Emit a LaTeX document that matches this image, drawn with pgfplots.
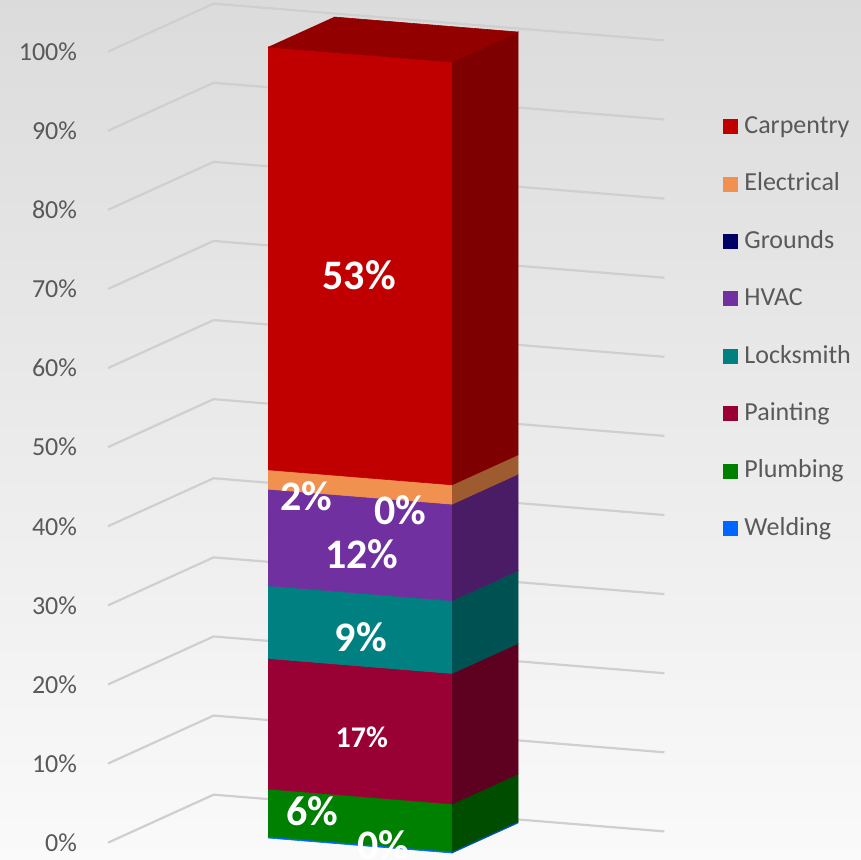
\documentclass[border=0pt]{standalone}
\usepackage{fontspec}
\setmainfont{Carlito}
\usepackage{pgfplots}
\pgfplotsset{compat=1.18}

\definecolor{tickgray}{HTML}{595959}
\definecolor{gridc}{HTML}{CFCFCF}
\definecolor{carp}{HTML}{C00000}\definecolor{carpS}{HTML}{7F0000}\definecolor{carpT}{HTML}{930000}
\definecolor{elec}{HTML}{F0914F}\definecolor{elecS}{HTML}{9E5B30}
\definecolor{grnd}{HTML}{000066}\definecolor{grndS}{HTML}{000040}
\definecolor{hvac}{HTML}{7030A0}\definecolor{hvacS}{HTML}{4A1C66}
\definecolor{lock}{HTML}{008080}\definecolor{lockS}{HTML}{005252}
\definecolor{paint}{HTML}{990033}\definecolor{paintS}{HTML}{5E0020}
\definecolor{plumb}{HTML}{008000}\definecolor{plumbS}{HTML}{004D00}
\definecolor{weld}{HTML}{0066FF}\definecolor{weldS}{HTML}{0050C8}

\tikzset{lbl/.style={text=white, font=\bfseries\fontsize{21}{24}\selectfont}}

% one stacked block: lower, upper, front colour, side colour
\newcommand{\seg}[4]{%
  \addplot3[fill=#3, draw=#3, line width=0.3pt, forget plot]
    coordinates {(0,0,#1) (1,0,#1) (1,0,#2) (0,0,#2)};
  \addplot3[fill=#4, draw=#4, line width=0.3pt, forget plot]
    coordinates {(1,0,#1) (1,1,#1) (1,1,#2) (1,0,#2)};
}

\begin{document}
\begin{tikzpicture}
\useasboundingbox (0,0) rectangle (430.5pt,429.5pt);
\fill[top color=black!14, bottom color=black!2] (0,0) rectangle (430.5pt,429.5pt);
\clip (0,0) rectangle (430.5pt,429.5pt);

\begin{axis}[
    disabledatascaling,
    x={(92pt,-7.5pt)}, y={(33pt,15pt)}, z={(0pt,3.955pt)},
    xmin=-0.69, xmax=1.76, ymin=-0.5, ymax=1.1, zmin=0, zmax=100,
    hide axis, clip=false,
    anchor=origin, at={(134pt,10.5pt)},
    legend image code/.code={\fill[#1, draw=none] (0pt,-3.75pt) rectangle (7.5pt,3.75pt);},
    legend cell align=left,
    legend style={at={(227.5pt,362pt)}, anchor=north west, draw=none, fill=none,
        inner sep=0pt, column sep=3pt, row sep=16.5pt,
        font=\fontsize{13}{15}\selectfont, text=tickgray,
        nodes={inner sep=0pt, text height=9.5pt, text depth=2.7pt}},
]

% walls: gridlines on the left and back wall
\pgfplotsinvokeforeach{0,10,...,100}{
  \addplot3[gridc, line width=1.1pt, forget plot]
    coordinates {(-0.69,-0.5,#1) (-0.69,1.1,#1) (1.76,1.1,#1)};
  \node[anchor=east, text=tickgray, font=\fontsize{13}{15}\selectfont, xshift=-12pt]
    at (axis cs:-0.69,-0.5,#1) {#1\%};
}

% 100% stacked column, bottom to top
\seg{0}{0.2}{weld}{weldS}        % Welding 0.2
\seg{0.2}{6.2}{plumb}{plumbS}    % Plumbing 6.0
\seg{6.2}{22.7}{paint}{paintS}   % Painting 16.5
\seg{22.7}{31.9}{lock}{lockS}    % Locksmith 9.2
\seg{31.9}{44.1}{hvac}{hvacS}    % HVAC 12.2
\addplot3[fill=grnd, draw=none, forget plot]
  coordinates {(0,0,44.1) (1,0,44.1) (1,0,44.1) (0,0,44.1)}; % Grounds 0
\seg{44.1}{46.55}{elec}{elecS}   % Electrical 2.45
\seg{46.55}{100}{carp}{carpS}    % Carpentry 53.45
\addplot3[fill=carpT, draw=carpT, line width=0.3pt, forget plot]
  coordinates {(0,0,100) (1,0,100) (1,1,100) (0,1,100)};

% data labels
\node[lbl] at (axis cs:0.495,0,72.1) {53\%};
\node[lbl] at (axis cs:0.21,0,43.6) {2\%};
\node[lbl] at (axis cs:0.72,0,42.8) {0\%};
\node[lbl] at (axis cs:0.51,0,36.8) {12\%};
\node[lbl] at (axis cs:0.505,0,26.4) {9\%};
\node[lbl, font=\bfseries\fontsize{15}{18}\selectfont] at (axis cs:0.51,0,13.7) {17\%};
\node[lbl] at (axis cs:0.24,0,3.9) {6\%};
\node[lbl] at (axis cs:0.625,0,0.3) {0\%};

% legend
\addlegendimage{fill=carp}\addlegendentry{Carpentry}
\addlegendimage{fill=elec}\addlegendentry{Electrical}
\addlegendimage{fill=grnd}\addlegendentry{Grounds}
\addlegendimage{fill=hvac}\addlegendentry{HVAC}
\addlegendimage{fill=lock}\addlegendentry{Locksmith}
\addlegendimage{fill=paint}\addlegendentry{Painting}
\addlegendimage{fill=plumb}\addlegendentry{Plumbing}
\addlegendimage{fill=weld}\addlegendentry{Welding}
\end{axis}
\end{tikzpicture}
\end{document}
